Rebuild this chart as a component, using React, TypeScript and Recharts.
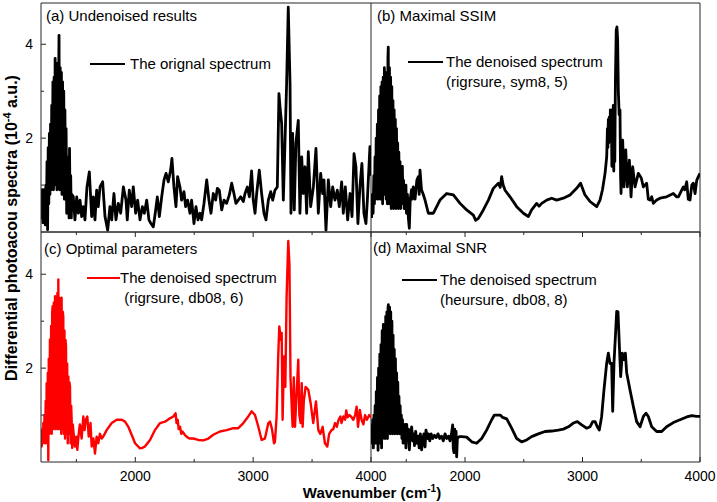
import React from "react";
import { LineChart, Line, XAxis, YAxis, ReferenceLine, Legend } from "recharts";

type Pt = [number, number];

const xTicks = [1500, 2000, 2500, 3000, 3500, 4000];
const xLabelled = [2000, 3000, 4000];
const yTicks = [1, 2, 3, 4];
const yLabelled = [2, 4];

// (a) original spectrum
const originalSpectrum: Pt[] = [
  [1203, 0.35], [1206, 0.3], [1211, 0.9], [1216, 0.2], [1221, 0.9], [1226, 0.5], [1231, 0.85], [1236, 0.15],
  [1241, 1.0], [1246, 0.4], [1251, 1.5], [1256, 0.05], [1261, 1.8], [1266, 0.6], [1271, 2.1], [1276, 0.8],
  [1281, 2.3], [1286, 0.9], [1291, 2.7], [1296, 1.0], [1301, 3.2], [1306, 0.9], [1311, 3.3], [1316, 1.2],
  [1320, 3.7], [1325, 1.0], [1330, 3.1], [1335, 0.9], [1340, 3.6], [1345, 1.0], [1350, 3.4], [1353, 4.19],
  [1358, 0.9], [1363, 3.5], [1368, 1.0], [1373, 3.4], [1378, 0.8], [1383, 3.2], [1388, 0.9], [1393, 3.0],
  [1398, 0.7], [1403, 2.6], [1408, 0.8], [1413, 2.2], [1418, 0.4], [1423, 1.6], [1428, 0.6], [1433, 1.4],
  [1438, 0.3], [1442, 1.78], [1447, 0.5], [1452, 1.2], [1457, 0.3], [1462, 0.8],
  [1474, 0.75], [1488, 0.26], [1503, 0.75], [1517, 0.4], [1531, 0.68], [1545, 0.33], [1559, 0.54], [1573, 0.26],
  [1590, 0.96], [1610, 1.28], [1630, 0.33], [1644, 0.75], [1658, 0.26], [1672, 0.89], [1686, 0.54], [1701, 0.96],
  [1723, 1.07], [1743, 0.33], [1766, 0.04], [1785, 0.54], [1800, 0.26], [1819, 0.82], [1836, 0.26], [1856, 0.61],
  [1876, 0.4], [1899, 0.96], [1921, 0.68], [1932, 0.26], [1949, 0.89], [1969, 0.54], [1983, 0.96], [2003, 0.4],
  [2020, 0.68], [2040, 0.26], [2060, 0.54], [2077, 0.4], [2097, 0.68], [2116, 0.26], [2133, 0.18], [2153, 0.11],
  [2173, 0.47], [2187, 0.75], [2204, 0.33], [2224, 0.75], [2244, 1.11], [2261, 1.25], [2280, 1.07], [2300, 1.32],
  [2311, 1.57], [2328, 0.96], [2345, 0.54], [2359, 1.18], [2379, 0.96], [2393, 0.68], [2413, 0.86], [2427, 0.54],
  [2444, 0.68], [2464, 0.4], [2478, 0.68], [2498, 0.18], [2515, 0.54], [2532, 0.26], [2549, 0.4], [2563, 0.26],
  [2583, 0.61], [2606, 1.11], [2625, 0.68], [2642, 0.4], [2662, 0.82], [2682, 0.68], [2696, 0.93], [2713, 0.89],
  [2733, 0.47], [2753, 0.68], [2775, 0.61], [2798, 0.79], [2818, 1.04], [2837, 0.82], [2854, 0.61], [2874, 0.68],
  [2894, 0.75], [2917, 0.65], [2931, 0.82], [2951, 0.96], [2968, 0.75], [2987, 1.3], [3001, 0.68], [3016, 0.4],
  [3030, 0.82], [3052, 1.32], [3072, 0.82], [3092, 0.4], [3109, 0.26], [3129, 0.68], [3149, 0.86], [3166, 0.68],
  [3185, 0.89], [3205, 0.96], [3219, 2.95], [3230, 2.6], [3242, 2.31], [3256, 0.68], [3270, 1.89], [3284, 3.16],
  [3298, 4.79], [3313, 3.16], [3321, 0.4], [3335, 2.1], [3349, 0.47], [3363, 1.9], [3383, 2.38], [3397, 0.4],
  [3412, 1.6], [3426, 0.82], [3440, 1.39], [3454, 0.4], [3468, 1.71], [3488, 0.54], [3511, 0.96], [3533, 1.78],
  [3553, 0.4], [3573, 1.25], [3590, 0.82], [3601, 1.11], [3618, 0.04], [3638, 1.11], [3658, 0.54], [3675, 0.96],
  [3694, 0.68], [3714, 0.89], [3731, 0.54], [3751, 1.07], [3765, 0.4], [3782, 0.96], [3802, 0.26], [3822, 0.82],
  [3839, 0.33], [3856, 1.67], [3872, 1.39], [3889, 0.18], [3906, 0.96], [3923, 1.46], [3940, 0.4], [3957, 0.18],
  [3969, 0.68], [3991, 1.82], [4000, 1.2],
];

// (b) rigrsure, sym8, 5
const ssimSpectrum: Pt[] = [
  [1205, 0.3], [1212, 0.8], [1218, 0.4], [1224, 1.2], [1229, 0.6], [1234, 1.6], [1239, 0.7], [1244, 2.0],
  [1249, 0.8], [1254, 2.3], [1259, 0.7], [1264, 2.6], [1269, 0.9], [1274, 2.9], [1279, 0.7], [1284, 3.1],
  [1289, 0.9], [1294, 3.2], [1299, 0.6], [1304, 3.3], [1309, 0.8], [1314, 3.5], [1319, 0.9], [1324, 3.3],
  [1329, 0.7], [1334, 3.4], [1339, 0.6], [1344, 3.7], [1347, 3.94], [1352, 0.6], [1357, 3.5], [1362, 0.7],
  [1367, 3.3], [1372, 0.5], [1377, 3.1], [1382, 0.6], [1387, 2.8], [1392, 0.5], [1397, 2.6], [1402, 0.6],
  [1407, 2.4], [1412, 0.5], [1417, 2.2], [1422, 0.6], [1427, 1.9], [1432, 0.5], [1437, 1.7], [1442, 0.6],
  [1447, 1.5], [1452, 0.5], [1457, 1.3], [1462, 0.7], [1467, 1.4], [1472, 0.6], [1477, 1.1], [1482, 0.5],
  [1487, 0.9], [1492, 0.6], [1497, 1.0], [1502, 0.4], [1510, 0.8], [1518, 0.3], [1526, 0.08], [1534, 0.7],
  [1545, 0.9], [1552, 0.7], [1560, 0.96], [1575, 0.7], [1590, 1.1], [1603, 1.18], [1610, 0.8], [1617, 1.32],
  [1630, 0.9], [1645, 0.8], [1660, 0.68], [1688, 0.4], [1731, 0.4], [1787, 0.68], [1844, 0.82], [1901, 0.79],
  [1958, 0.61], [2014, 0.47], [2071, 0.36], [2090, 0.25], [2114, 0.29], [2156, 0.47], [2199, 0.68], [2241, 0.93],
  [2284, 1.04], [2300, 0.95], [2312, 1.18], [2325, 1.0], [2341, 0.89], [2383, 0.75], [2440, 0.54], [2497, 0.4],
  [2539, 0.33], [2567, 0.47], [2610, 0.61], [2630, 0.55], [2653, 0.61], [2695, 0.68], [2738, 0.72], [2780, 0.68],
  [2837, 0.72], [2894, 0.79], [2950, 0.93], [2984, 1.04], [3021, 0.79], [3064, 0.65], [3121, 0.54], [3149, 0.68],
  [3170, 0.9], [3192, 1.25], [3206, 1.6], [3212, 2.2], [3216, 1.8], [3220, 2.4], [3224, 1.9], [3228, 2.45],
  [3233, 2.0], [3237, 2.6], [3242, 2.2], [3246, 2.55], [3250, 1.4], [3254, 2.6], [3258, 1.6], [3262, 2.7],
  [3266, 1.3], [3270, 2.2], [3275, 1.5], [3280, 3.2], [3287, 4.3], [3293, 4.37], [3299, 4.1], [3305, 3.0],
  [3312, 2.5], [3319, 2.6], [3324, 1.2], [3328, 0.82], [3335, 1.7], [3342, 1.96], [3353, 0.96], [3368, 1.75],
  [3382, 0.96], [3399, 1.53], [3413, 0.75], [3427, 1.39], [3447, 0.96], [3475, 1.25], [3500, 1.15], [3518, 0.96],
  [3546, 1.04], [3560, 0.7], [3575, 0.68], [3589, 0.75], [3603, 0.61], [3631, 0.68], [3660, 0.72], [3716, 0.75],
  [3773, 0.82], [3800, 0.75], [3816, 0.75], [3858, 0.96], [3870, 0.9], [3887, 1.07], [3900, 0.7], [3915, 0.68],
  [3930, 1.0], [3943, 1.04], [3958, 0.82], [3972, 1.1], [3986, 1.18], [4000, 1.25],
];

// (c) rigrsure, db08, 6
const optimalSpectrum: Pt[] = [
  [1203, 0.5], [1206, 0.33], [1211, 0.7], [1216, 0.4], [1220, 0.83], [1225, 0.5], [1230, 1.0], [1235, 0.4],
  [1240, 1.3], [1245, 0.6], [1248, 1.68], [1253, 0.4], [1258, 1.9], [1262, 0.04], [1266, 2.2], [1271, 0.6],
  [1276, 2.61], [1281, 0.7], [1286, 2.9], [1291, 0.6], [1295, 3.2], [1299, 3.32], [1304, 0.7], [1309, 3.4],
  [1314, 0.8], [1319, 3.53], [1324, 0.7], [1329, 3.4], [1334, 0.8], [1339, 3.6], [1344, 0.7], [1347, 3.89],
  [1352, 0.8], [1357, 3.5], [1362, 0.7], [1367, 3.4], [1372, 0.6], [1375, 3.5], [1380, 0.7], [1385, 3.2],
  [1389, 3.1], [1394, 0.6], [1399, 2.8], [1404, 0.5], [1408, 2.6], [1412, 2.46], [1417, 0.6], [1422, 2.1],
  [1427, 0.4], [1432, 1.82], [1437, 0.6], [1441, 1.7], [1446, 1.61], [1451, 0.4], [1456, 1.2], [1460, 0.9],
  [1465, 0.3], [1470, 0.8], [1474, 0.68], [1488, 0.33], [1500, 0.54], [1508, 0.26], [1520, 0.6], [1530, 0.8],
  [1545, 0.5], [1559, 0.97], [1570, 0.68], [1580, 0.9], [1593, 0.97], [1605, 0.54], [1620, 0.83], [1630, 0.33],
  [1645, 0.5], [1658, 0.18], [1672, 0.54], [1686, 0.4], [1700, 0.6], [1715, 0.5], [1730, 0.55], [1757, 0.68],
  [1800, 0.83], [1842, 0.9], [1884, 0.9], [1913, 0.86], [1941, 0.75], [1969, 0.58], [1998, 0.4], [2040, 0.29],
  [2060, 0.3], [2082, 0.33], [2125, 0.47], [2167, 0.68], [2210, 0.83], [2252, 0.86], [2294, 0.93], [2323, 0.97],
  [2342, 1.04], [2350, 0.83], [2360, 0.9], [2368, 0.7], [2380, 0.75], [2390, 0.6], [2400, 0.65], [2420, 0.58],
  [2440, 0.53], [2460, 0.5], [2492, 0.5], [2535, 0.47], [2577, 0.46], [2620, 0.5], [2662, 0.58], [2719, 0.65],
  [2775, 0.68], [2832, 0.72], [2874, 0.72], [2917, 0.83], [2959, 0.97], [2987, 1.08], [3016, 1.0], [3044, 0.75],
  [3072, 0.47], [3100, 0.5], [3129, 0.83], [3143, 0.86], [3160, 0.7], [3177, 0.4], [3185, 0.43], [3199, 0.97],
  [3212, 2.2], [3222, 2.89], [3235, 2.6], [3242, 2.75], [3250, 0.9], [3262, 2.25], [3273, 1.6], [3284, 3.53],
  [3298, 4.71], [3308, 4.2], [3317, 1.8], [3327, 1.2], [3335, 0.75], [3345, 1.8], [3355, 0.75], [3370, 1.5],
  [3383, 2.18], [3392, 1.0], [3403, 0.83], [3412, 1.68], [3420, 0.75], [3430, 1.3], [3445, 1.6], [3468, 1.54],
  [3488, 1.25], [3510, 0.83], [3533, 1.29], [3553, 0.68], [3570, 0.6], [3590, 0.75], [3609, 0.4], [3629, 0.33],
  [3645, 0.6], [3665, 0.68], [3680, 0.7], [3695, 0.83], [3710, 0.75], [3725, 0.9], [3740, 0.97], [3750, 0.83],
  [3765, 0.97], [3780, 0.9], [3790, 1.1], [3800, 0.95], [3815, 1.0], [3830, 0.97], [3850, 0.9], [3865, 1.0],
  [3878, 1.18], [3890, 0.75], [3905, 1.11], [3920, 0.9], [3935, 0.8], [3950, 1.0], [3965, 0.9], [3985, 1.0],
  [4000, 0.95],
];

// (d) heursure, db08, 8
const snrSpectrum: Pt[] = [
  [1205, 0.8], [1210, 0.4], [1215, 0.9], [1220, 0.3], [1225, 1.0], [1230, 0.5], [1235, 1.2], [1240, 0.4],
  [1245, 1.5], [1250, 0.5], [1255, 1.8], [1260, 0.25], [1265, 2.0], [1270, 0.4], [1275, 2.3], [1280, 0.5],
  [1285, 2.5], [1290, 0.3], [1295, 2.8], [1300, 0.5], [1305, 2.93], [1310, 0.6], [1315, 2.9], [1320, 0.5],
  [1325, 3.1], [1330, 0.6], [1335, 3.2], [1340, 0.5], [1345, 3.3], [1348, 3.35], [1353, 0.7], [1358, 3.3],
  [1363, 0.6], [1368, 3.2], [1373, 0.7], [1378, 3.0], [1383, 0.6], [1388, 2.7], [1393, 0.7], [1398, 2.4],
  [1403, 0.6], [1408, 2.2], [1413, 0.7], [1418, 1.9], [1423, 0.6], [1428, 1.7], [1433, 0.7], [1438, 1.4],
  [1443, 0.6], [1448, 1.2], [1453, 0.7], [1458, 1.0], [1463, 0.5], [1468, 0.9], [1473, 0.4], [1478, 0.8],
  [1483, 0.5], [1490, 0.8], [1497, 0.3], [1504, 0.8], [1510, 0.5], [1518, 0.7], [1526, 0.26], [1535, 0.6],
  [1546, 0.75], [1555, 0.45], [1562, 0.6], [1570, 0.35], [1580, 0.65], [1590, 0.4], [1600, 0.55], [1610, 0.3],
  [1620, 0.6], [1631, 0.26], [1640, 0.47], [1650, 0.6], [1660, 0.32], [1668, 0.68], [1680, 0.5], [1690, 0.6],
  [1700, 0.45], [1712, 0.6], [1725, 0.5], [1740, 0.57], [1755, 0.52], [1770, 0.6], [1785, 0.5], [1800, 0.55],
  [1815, 0.45], [1830, 0.6], [1845, 0.5], [1860, 0.55], [1872, 0.45], [1885, 0.6], [1895, 0.79], [1900, 0.3],
  [1906, 0.2], [1912, 0.7], [1918, 0.25], [1924, 0.65], [1929, 0.11], [1935, 0.5], [1950, 0.54], [1972, 0.54],
  [2014, 0.53], [2057, 0.43], [2099, 0.4], [2142, 0.5], [2184, 0.68], [2227, 0.9], [2250, 1.0], [2270, 1.0],
  [2300, 1.0], [2321, 0.95], [2355, 0.92], [2397, 0.72], [2440, 0.5], [2482, 0.43], [2525, 0.47], [2567, 0.54],
  [2624, 0.6], [2681, 0.65], [2738, 0.66], [2794, 0.68], [2837, 0.7], [2880, 0.75], [2922, 0.83], [2956, 0.86],
  [2993, 0.79], [3036, 0.72], [3064, 0.75], [3087, 0.86], [3107, 0.86], [3126, 0.75], [3143, 0.68], [3163, 0.97],
  [3183, 1.54], [3206, 2.11], [3220, 2.32], [3234, 2.1], [3248, 2.1], [3257, 1.08], [3268, 2.1], [3280, 2.68],
  [3291, 3.21], [3302, 3.2], [3314, 2.46], [3325, 1.82], [3339, 2.32], [3353, 2.18], [3365, 2.32], [3376, 1.9],
  [3404, 1.54], [3433, 1.18], [3461, 0.86], [3490, 0.75], [3518, 0.97], [3541, 1.04], [3560, 0.97], [3589, 0.75],
  [3631, 0.65], [3674, 0.65], [3716, 0.75], [3773, 0.84], [3830, 0.9], [3887, 0.96], [3929, 0.99], [3972, 0.97],
  [4000, 0.97],
];

const titles = ["(a) Undenoised results", "(b) Maximal SSIM", "(c) Optimal parameters", "(d) Maximal SNR"];
const legendTexts = [
  ["The orignal spectrum"],
  ["The denoised spectrum", "(rigrsure, sym8, 5)"],
  ["The denoised spectrum", "\u00a0(rigrsure, db08, 6)"],
  ["The denoised spectrum", "(heursure, db08, 8)"],
];

const W = 717;
const H = 502;
const FONT = "'Liberation Sans', Arial, sans-serif";
const FRAME = "#262626";

interface PanelProps {
  points: Pt[];
  color: string;
  rect: { x: number; y: number; w: number; h: number };
  yMax: number;
  left: boolean;
  bottom: boolean;
  title: string;
  legend: string[];
  titlePos: { x: number; y: number };
  legendPos: { x: number; y: number; lineW: number; gap: number };
  strokeWidth: number;
}

function Panel(p: PanelProps) {
  const data = p.points.map(([w, v]) => ({ w, v }));
  const { rect } = p;

  const xTick = (props: any) => {
    const { x, y, payload } = props;
    const major = xLabelled.includes(payload.value);
    const len = major ? 5 : 3;
    return (
      <g>
        <line x1={x} y1={y} x2={x} y2={p.bottom ? y - len : y + len} stroke={FRAME} strokeWidth={1} />
        {p.bottom && major && (
          <text x={x} y={y + 19} textAnchor="middle" fontSize={14} fontFamily={FONT} fill="#000">
            {payload.value}
          </text>
        )}
      </g>
    );
  };

  const yTick = (props: any) => {
    const { x, y, payload } = props;
    const major = yLabelled.includes(payload.value);
    const len = major ? 5 : 3;
    return (
      <g>
        <line x1={x} y1={y} x2={x + len} y2={y} stroke={FRAME} strokeWidth={1} />
        {major && (
          <text x={x - 8} y={y + 5} textAnchor="end" fontSize={14} fontFamily={FONT} fill="#000">
            {payload.value}
          </text>
        )}
      </g>
    );
  };

  const legendContent = () => (
    <div style={{ display: "flex", alignItems: "flex-start", fontFamily: FONT, fontSize: 15, lineHeight: "20px", whiteSpace: "nowrap", color: "#000" }}>
      <div style={{ width: p.legendPos.lineW, height: 0, borderTop: `${p.strokeWidth}px solid ${p.color}`, marginTop: 10 - p.strokeWidth / 2, marginRight: p.legendPos.gap }} />
      <div>
        {p.legend.map((t, i) => (
          <div key={i}>{t}</div>
        ))}
      </div>
    </div>
  );

  // axes take 1px so that Recharts still draws them
  const yAxisW = p.left ? 1 : 0;
  const margin = {
    top: rect.y,
    left: rect.x - yAxisW,
    right: W - rect.x - rect.w,
    bottom: H - rect.y - rect.h - 1,
  };

  return (
    <div style={{ position: "absolute", left: 0, top: 0 }}>
      <LineChart width={W} height={H} data={data} margin={margin}>
        <XAxis
          type="number"
          dataKey="w"
          domain={[1200, 4000]}
          ticks={xTicks}
          interval={0}
          allowDataOverflow
          height={1}
          tickSize={0}
          tickMargin={0}
          tickLine={false}
          axisLine={{ stroke: FRAME, strokeWidth: 1 }}
          tick={xTick}
        />
        <YAxis
          type="number"
          domain={[0, p.yMax]}
          ticks={yTicks}
          interval={0}
          allowDataOverflow
          width={1}
          hide={!p.left}
          tickSize={0}
          tickMargin={0}
          tickLine={false}
          axisLine={{ stroke: FRAME, strokeWidth: 1 }}
          tick={yTick}
        />
        <ReferenceLine x={4000} stroke={FRAME} strokeWidth={1} />
        <ReferenceLine y={p.yMax} stroke={FRAME} strokeWidth={1} />
        <Legend
          layout="horizontal"
          verticalAlign="middle"
          align="center"
          content={legendContent}
          wrapperStyle={{ left: p.legendPos.x, top: p.legendPos.y, width: "auto" }}
        />
        <Line
          type="linear"
          dataKey="v"
          stroke={p.color}
          strokeWidth={p.strokeWidth}
          strokeLinejoin="round"
          dot={false}
          activeDot={false}
          isAnimationActive={false}
        />
      </LineChart>
      <div
        style={{ position: "absolute", left: p.titlePos.x, top: p.titlePos.y, fontFamily: FONT, fontSize: 15, lineHeight: "20px", whiteSpace: "nowrap", color: "#000" }}
      >
        {p.title}
      </div>
    </div>
  );
}

export default function App() {
  return (
    <div style={{ position: "absolute", left: 0, top: 0, width: W, height: H, background: "#fff", overflow: "hidden" }}>
      <Panel
        points={originalSpectrum}
        color="#000"
        rect={{ x: 41, y: 3, w: 330, h: 229 }}
        yMax={4.88}
        left
        bottom={false}
        title={titles[0]}
        legend={legendTexts[0]}
        titlePos={{ x: 46, y: 6 }}
        legendPos={{ x: 90, y: 54, lineW: 35, gap: 5 }}
        strokeWidth={2.8}
      />
      <Panel
        points={ssimSpectrum}
        color="#000"
        rect={{ x: 371, y: 3, w: 329, h: 229 }}
        yMax={4.88}
        left={false}
        bottom={false}
        title={titles[1]}
        legend={legendTexts[1]}
        titlePos={{ x: 377, y: 6 }}
        legendPos={{ x: 408, y: 52, lineW: 35, gap: 3 }}
        strokeWidth={2.8}
      />
      <Panel
        points={optimalSpectrum}
        color="#f00"
        rect={{ x: 41, y: 232, w: 330, h: 230 }}
        yMax={4.9}
        left
        bottom
        title={titles[2]}
        legend={legendTexts[2]}
        titlePos={{ x: 44, y: 239 }}
        legendPos={{ x: 87, y: 268, lineW: 33, gap: 0 }}
        strokeWidth={2.4}
      />
      <Panel
        points={snrSpectrum}
        color="#000"
        rect={{ x: 371, y: 232, w: 329, h: 230 }}
        yMax={4.9}
        left={false}
        bottom
        title={titles[3]}
        legend={legendTexts[3]}
        titlePos={{ x: 373, y: 238 }}
        legendPos={{ x: 402, y: 270, lineW: 35, gap: 3 }}
        strokeWidth={2.8}
      />
      <div
        style={{
          position: "absolute",
          left: 12 - 220,
          top: 228 - 10,
          width: 440,
          height: 20,
          lineHeight: "20px",
          textAlign: "center",
          transform: "rotate(-90deg)",
          fontFamily: FONT,
          fontWeight: "bold",
          fontSize: 16,
          whiteSpace: "nowrap",
          color: "#000",
        }}
      >
        Differential photoacou spectra (10<sup style={{ fontSize: 11, lineHeight: 0 }}>-4</sup> a.u.)
      </div>
      <div
        style={{
          position: "absolute",
          left: 372 - 150,
          top: 484,
          width: 300,
          height: 18,
          lineHeight: "18px",
          textAlign: "center",
          fontFamily: FONT,
          fontWeight: "bold",
          fontSize: 15,
          whiteSpace: "nowrap",
          color: "#000",
        }}
      >
        Wavenumber (cm<sup style={{ fontSize: 10, lineHeight: 0 }}>-1</sup>)
      </div>
    </div>
  );
}
